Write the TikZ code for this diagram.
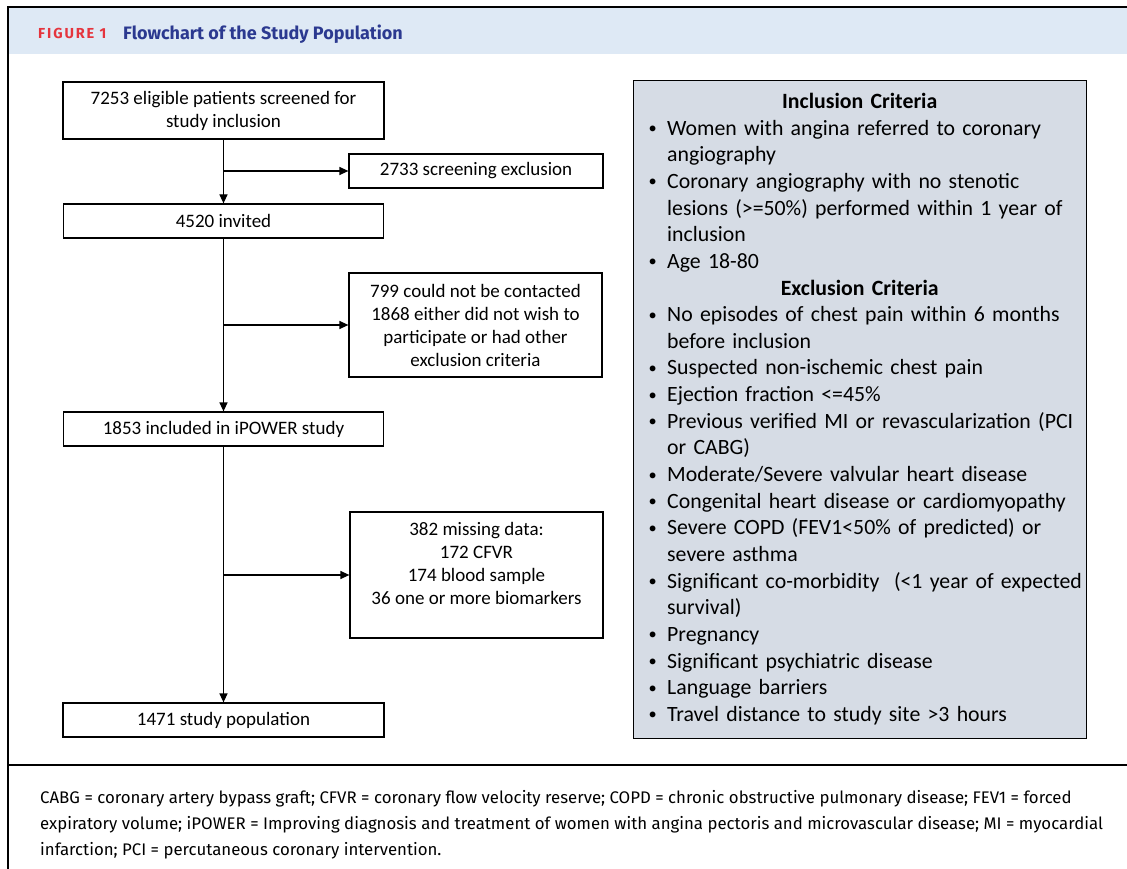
\documentclass[tikz,border=0pt]{standalone}
\usepackage{fontspec}
\setmainfont{Carlito}
\newfontfamily\capfont{Fira Sans}
\newfontfamily\headfont{Fira Sans}
\usetikzlibrary{arrows.meta}
\definecolor{hdrbg}{HTML}{DEE9F5}
\definecolor{critbg}{HTML}{D6DCE5}
\definecolor{figred}{HTML}{E5343D}
\definecolor{figblue}{HTML}{2B3990}
\newcommand{\bitem}[1]{\par\hangindent=19pt\hangafter=1\noindent\makebox[19pt][l]{\hspace{0.5pt}\raisebox{1.5pt}{\scalebox{0.75}{\textbullet}}}#1}
\begin{document}
\begin{tikzpicture}[x=1pt,y=-1pt,
  flowbox/.style={draw, line width=1.2pt, align=center, inner sep=0pt,
    font=\fontsize{19}{23}\selectfont},
  arr/.style={line width=1.2pt, -{Triangle[length=9pt,width=8pt]}},
  plain/.style={line width=1.2pt}]
\useasboundingbox (0,0) rectangle (1127,869);
% frame and header
\fill[hdrbg] (9,8) rectangle (1127,54);
\draw[line width=2pt] (8,869) -- (8,7) -- (1127,7);
\draw[line width=1.6pt] (8,765) -- (1127,765);
\node[anchor=base west, inner sep=0pt, text=figred,
  font=\headfont\bfseries\fontsize{14.5}{16}\selectfont\addfontfeature{LetterSpace=13}] (fig) at (38,39) {FIGURE 1};
\node[anchor=base west, inner sep=0pt, text=figblue,
  font=\headfont\bfseries\fontsize{18}{20}\selectfont] (title) at (123,40) {Flowchart of the Study Population};
% flow boxes
\node[flowbox, minimum width=321pt, minimum height=57pt] (b1) at (223.5,110.5)
  {7253 eligible patients screened for\\study inclusion};
\node[flowbox, minimum width=254pt, minimum height=34pt] (b2) at (476,171)
  {2733 screening exclusion};
\node[flowbox, minimum width=320pt, minimum height=34pt] (b3) at (223.5,221)
  {4520 invited};
\node[flowbox, minimum width=253pt, minimum height=104pt] (b4) at (475.5,325)
  {799 could not be contacted\\1868 either did not wish to\\participate or had other\\exclusion criteria};
\node[flowbox, minimum width=320pt, minimum height=34pt] (b5) at (223.5,429)
  {1853 included in iPOWER study};
\node[flowbox, minimum width=253pt, minimum height=126pt] (b6) at (476.5,575)
  {382 missing data:\\172 CFVR\\174 blood sample\\36 one or more biomarkers\\\mbox{}};
\node[flowbox, minimum width=321pt, minimum height=34pt] (b7) at (223.5,720)
  {1471 study population};
% connectors
\draw[arr] (b1.south) -- (b3.north);
\draw[arr] (b1.south |- b2.west) -- (b2.west);
\draw[arr] (b3.south) -- (b5.north);
\draw[arr] (b3.south |- b4.west) -- (b4.west);
\draw[arr] (b5.south) -- (b7.north);
\draw[arr] (b5.south |- b6.west) -- (b6.west);
% criteria box
\node[draw, line width=1.2pt, fill=critbg, minimum width=453pt, minimum height=658pt,
  anchor=north west, inner sep=0pt] (crit) at (633,80) {};
\node[anchor=north west, inner sep=0pt, text width=440pt, align=left,
  font=\fontsize{21.8}{26.65}\selectfont] (crittext) at (648,93) {%
\noindent\makebox[423pt]{\bfseries Inclusion Criteria}
\bitem{Women with angina referred to coronary\newline angiography}
\bitem{Coronary angiography with no stenotic\newline lesions (>=50\%) performed within 1 year of\newline inclusion}
\bitem{Age 18-80}
\par\noindent\makebox[423pt]{\bfseries Exclusion Criteria}
\bitem{No episodes of chest pain within 6 months\newline before inclusion}
\bitem{Suspected non-ischemic chest pain}
\bitem{Ejection fraction <=45\%}
\bitem{Previous verified MI or revascularization (PCI\newline or CABG)}
\bitem{Moderate/Severe valvular heart disease}
\bitem{Congenital heart disease or cardiomyopathy}
\bitem{Severe COPD (FEV1<50\% of predicted) or\newline severe asthma}
\bitem{Significant co-morbidity\ \ (<1 year of expected\newline survival)}
\bitem{Pregnancy}
\bitem{Significant psychiatric disease}
\bitem{Language barriers}
\bitem{Travel distance to study site >3 hours}};
% caption
\node[anchor=north west, inner sep=0pt, align=left,
  font=\capfont\fontsize{16.8}{26}\selectfont] (caption) at (40,790) {%
CABG = coronary artery bypass graft; CFVR = coronary flow velocity reserve; COPD = chronic obstructive pulmonary disease; FEV1 = forced\\
expiratory volume; iPOWER = Improving diagnosis and treatment of women with angina pectoris and microvascular disease; MI = myocardial\\
infarction; PCI = percutaneous coronary intervention.};
\end{tikzpicture}
\end{document}
